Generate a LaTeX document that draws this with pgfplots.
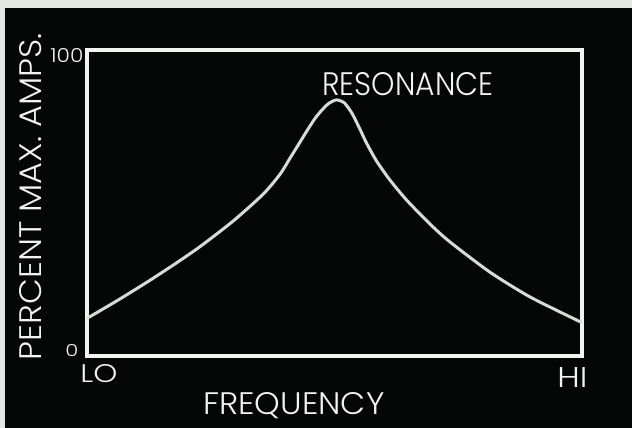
\documentclass[border=0pt]{standalone}
\usepackage{pgfplots}
\pgfplotsset{compat=1.18}
\usepackage{fontspec}
\setmainfont{Poppins Light}
\usepackage{graphicx}
\definecolor{panel}{HTML}{040706}
\definecolor{paper}{HTML}{E4E6E4}
\definecolor{ink}{HTML}{F2F4F2}
\definecolor{trace}{HTML}{D4DED8}
% label squeezed into the box the lettering takes in the picture
\newcommand{\lbl}[3]{\resizebox{#1}{#2}{#3}}

\begin{document}
\begin{tikzpicture}
% card and black panel (picture is 316pt x 214pt)
\fill[paper] (0,0) rectangle (316pt,214pt);
\fill[panel] (2.5pt,0) rectangle (316pt,210pt);

\begin{axis}[
  at={(43.5pt,36pt)}, anchor=south west,
  scale only axis,
  width=247.5pt, height=153pt,
  xmin=0, xmax=100, ymin=0, ymax=100,
  xtick=\empty, ytick=\empty,
  axis line style={draw=ink, line width=1.7pt},
  every axis plot/.append style={line width=1.5pt},
]
\addplot[trace, smooth, tension=0.4] coordinates {
  (0,12.3) (6,18.0) (12,24.0) (17.5,29.8) (22.8,35.7) (29.6,44.2)
  (35.6,52.9) (39,59.4) (41,64.6) (42.8,69.3) (44.4,73.5) (46,77.5)
  (47.3,80.1) (48.8,82.5) (50.4,83.7) (52,82.7) (53.5,79.4)
  (55,74.6) (56.5,69.5) (58.5,63.7) (61.2,57.5) (64.6,50.9)
  (69.3,43.1) (73.3,37.3) (81.4,27.4) (89.5,19.3) (100,10.9)
};
\end{axis}

\begin{scope}[every node/.style={inner sep=0pt, text=ink}]
\node[anchor=base west] at (161pt,166pt) {\lbl{85.5pt}{11.5pt}{RESONANCE}};
\node[anchor=base west] at (101.5pt,6.5pt) {\lbl{90.5pt}{11pt}{FREQUENCY}};
\node[anchor=base, rotate=90] at (21pt,115.75pt) {\lbl{163.5pt}{11pt}{PERCENT MAX. AMPS.}};
\node[anchor=base west] at (25pt,182.5pt) {\lbl{16.5pt}{7pt}{100}};
\node[anchor=base west] at (32.5pt,35.5pt) {\lbl{6.5pt}{6pt}{0}};
\node[anchor=base west] at (40pt,22.5pt) {\lbl{18.5pt}{9pt}{LO}};
\node[anchor=base west] at (278.5pt,20pt) {\lbl{15pt}{10pt}{HI}};
\end{scope}

\pgfresetboundingbox
\path (0,0) rectangle (316pt,214pt);
\end{tikzpicture}
\end{document}
